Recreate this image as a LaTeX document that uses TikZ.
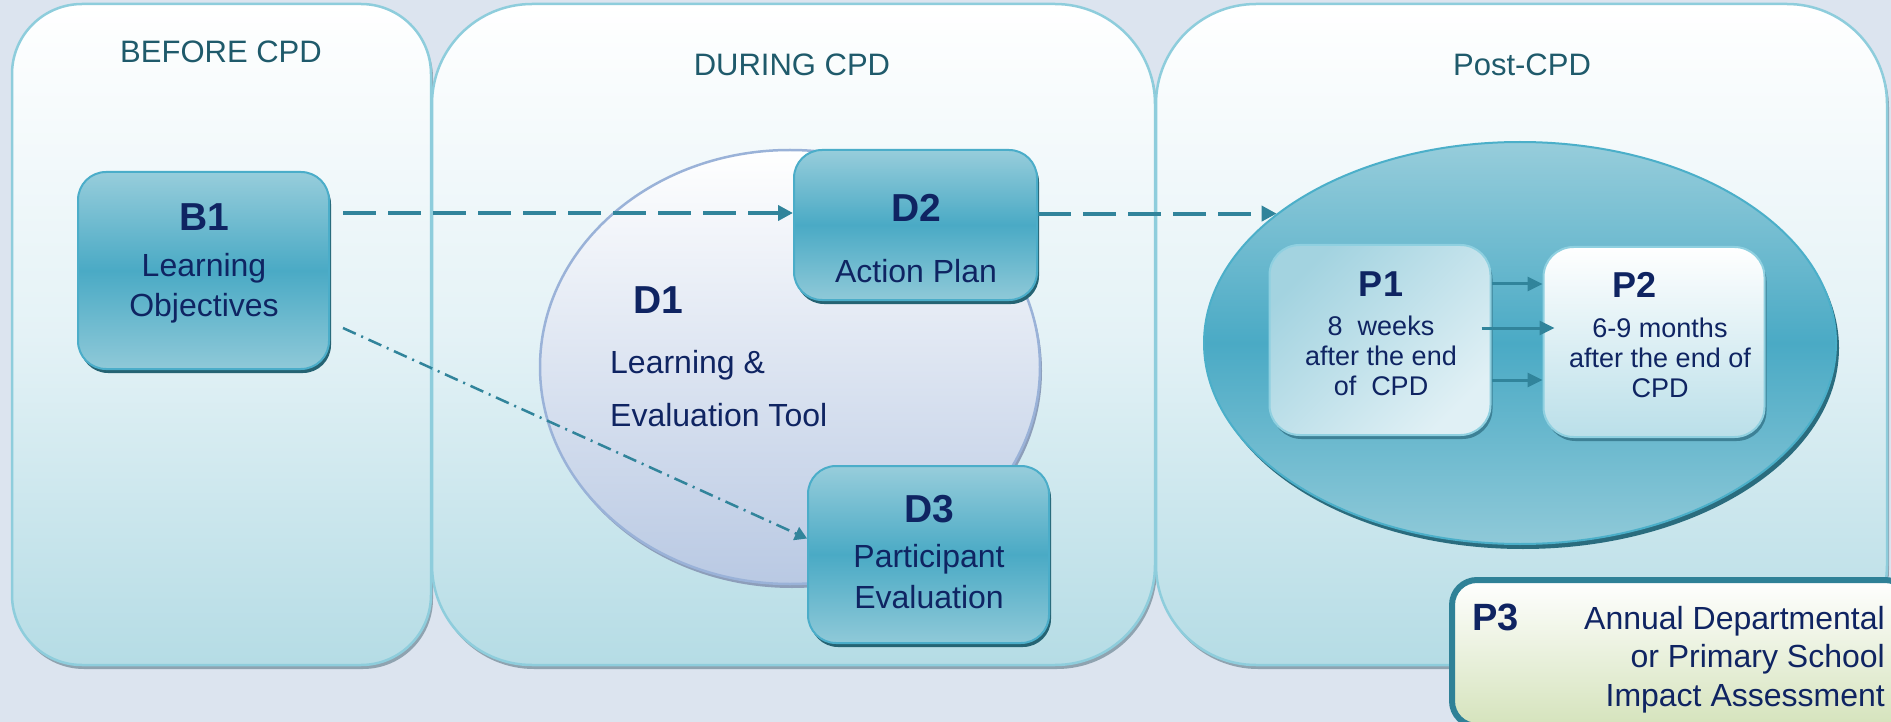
\documentclass[tikz,border=0pt]{standalone}
\usepackage{fontspec}
\setmainfont{Liberation Sans}
\usetikzlibrary{shapes.geometric}
\usetikzlibrary{arrows.meta}
\usetikzlibrary{shadows}
\definecolor{PageBack}{HTML}{DCE4EF}
\definecolor{PanelLine}{HTML}{8ECDDC}
\definecolor{PanelMid}{HTML}{E4F2F6}
\definecolor{PanelBot}{HTML}{B5DCE5}
\definecolor{PanelShadow}{HTML}{8FA3B0}
\definecolor{TitleCol}{HTML}{1F5A6B}
\definecolor{Navy}{HTML}{0F2462}
\definecolor{BoxTop}{HTML}{97CDDB}
\definecolor{BoxMid}{HTML}{4AAAC5}
\definecolor{BoxBot}{HTML}{8FC9D8}
\definecolor{BoxLine}{HTML}{4BADC9}
\definecolor{BoxShadow}{HTML}{256373}
\definecolor{OvalLine}{HTML}{9AB2D8}
\definecolor{OvalBot}{HTML}{B9C9E3}
\definecolor{OvalShadow}{HTML}{8D9EBA}
\definecolor{PostLine}{HTML}{4BAFC9}
\definecolor{PostShadow}{HTML}{2A6C7E}
\definecolor{PLine}{HTML}{8FD0E0}
\definecolor{PShadow}{HTML}{3D8196}
\definecolor{POneTop}{HTML}{A3D3E0}
\definecolor{POneBot}{HTML}{E0F0F5}
\definecolor{PTwoBot}{HTML}{BADFE9}
\definecolor{ArrowCol}{HTML}{31849B}
\definecolor{PThree}{HTML}{2F8197}
\definecolor{PThreeBot}{HTML}{D5E3BC}

\begin{document}
\begin{tikzpicture}[x=1pt,y=-1pt,
    panel/.style={draw=PanelLine, line width=2.5pt, top color=white, bottom color=PanelBot,
      middle color=PanelMid,
      drop shadow={shadow xshift=2pt, shadow yshift=-4pt, fill=PanelShadow, opacity=1}},
    stepbox/.style={rectangle, rounded corners=28pt, draw=BoxLine, line width=2pt, inner sep=0pt,
      top color=BoxTop, bottom color=BoxBot, middle color=BoxMid,
      drop shadow={shadow xshift=2pt, shadow yshift=-4pt, fill=BoxShadow, opacity=1}},
    pbox/.style={rectangle, rounded corners=30pt, draw=PLine, line width=2pt, inner sep=0pt,
      minimum width=221pt, minimum height=190pt,
      drop shadow={shadow xshift=2pt, shadow yshift=-4pt, fill=PShadow, opacity=1}},
    title/.style={font=\fontsize{31}{37}\selectfont, text=TitleCol, anchor=base, inner sep=0pt},
    boxtext/.style={font=\fontsize{32}{40}\selectfont, text=Navy, align=center, anchor=north, inner sep=0pt},
    ptext/.style={font=\fontsize{27}{30}\selectfont, text=Navy, align=center, anchor=north, inner sep=0pt},
    tag/.style={font=\fontsize{39}{40}\selectfont\bfseries, text=Navy, inner sep=0pt},
    dasharr/.style={draw=ArrowCol, line width=4pt, dash pattern=on 33pt off 12pt,
      -{Triangle[length=15pt,width=15pt]}},
    dotarr/.style={draw=ArrowCol, line width=2.5pt, dash pattern=on 14pt off 6pt on 2pt off 6pt,
      -{Triangle[length=12pt,width=14pt]}},
    parr/.style={draw=ArrowCol, line width=3pt, -{Triangle[length=15pt,width=14pt]}}
  ]
  \useasboundingbox (0,0) rectangle (1891,722);
  \fill[PageBack] (0,0) rectangle (1891,722);

  % three phases
  \draw[panel, rounded corners=70pt] (12,4) rectangle (431,665);
  \draw[panel, rounded corners=100pt] (432,4) rectangle (1155,665);
  \draw[panel, rounded corners=100pt] (1156,4) rectangle (1887,665);
  \node[title] (before) at (221,63) {BEFORE CPD};
  \node[title] (during) at (792,76) {DURING CPD};
  \node[title] (postcpd) at (1522,76) {Post-CPD};

  % during
  \node[ellipse, draw=OvalLine, line width=2.5pt, inner sep=0pt, top color=white, bottom color=OvalBot,
    minimum width=500pt, minimum height=434pt,
    drop shadow={shadow xshift=2pt, shadow yshift=-4pt, fill=OvalShadow, opacity=1}] (d1) at (790,367) {};
  \node[tag, anchor=base west] (d1tag) at (633,313) {D1};
  \node[boxtext, align=left, anchor=north west, font=\fontsize{32}{53}\selectfont] (d1txt) at (610,350)
    {Learning \&\\Evaluation Tool};
  \node[stepbox, minimum width=243pt, minimum height=150pt] (d2) at (915.5,225) {};
  \node[boxtext] (d2txt) at (916,194) {{\fontsize{39}{40}\selectfont\bfseries D2}\\[21pt]Action Plan};
  \node[stepbox, minimum width=241pt, minimum height=177pt] (d3) at (928.5,554.5) {};
  \node[boxtext, font=\fontsize{32}{41}\selectfont] (d3txt) at (929,495)
    {{\fontsize{39}{40}\selectfont\bfseries D3}\\[4pt]Participant\\Evaluation};

  % before
  \node[stepbox, minimum width=251pt, minimum height=197pt] (b1) at (203.5,270.5) {};
  \node[boxtext] (b1txt) at (204,203) {{\fontsize{39}{40}\selectfont\bfseries B1}\\[6pt]Learning\\Objectives};

  % post
  \node[ellipse, draw=PostLine, line width=2pt, inner sep=0pt,
    top color=BoxTop, bottom color=BoxBot, middle color=BoxMid,
    minimum width=632pt, minimum height=402pt,
    drop shadow={shadow xshift=3pt, shadow yshift=-5pt, fill=PostShadow, opacity=1}] (post) at (1520,343) {};
  \node[pbox, top color=POneTop, bottom color=POneBot, shading angle=45] (p1) at (1380,340) {};
  \node[pbox, top color=white, bottom color=PTwoBot] (p2) at (1654,342) {};
  \node[ptext] (p1txt) at (1381,272)
    {{\fontsize{36}{36}\selectfont\bfseries P1}\\[9pt]8\ \ weeks\\after the end\\of\ \ CPD};
  \node[tag, font=\fontsize{36}{36}\selectfont\bfseries, anchor=base] (p2tag) at (1634,298) {P2};
  \node[ptext] (p2txt) at (1660,318) {6-9 months\\after the end of\\CPD};
  \node[rectangle, rounded corners=25pt, draw=PThree, line width=6pt, inner sep=0pt,
    top color=white, bottom color=PThreeBot, minimum width=458pt, minimum height=146pt] (p3) at (1681,653) {};
  \node[tag, font=\fontsize{38}{40}\selectfont\bfseries, anchor=base west] (p3tag) at (1472,630) {P3};
  \node[boxtext, align=right, anchor=north east, font=\fontsize{32}{38.5}\selectfont] (p3txt) at (1885,606)
    {Annual Departmental\\or Primary School\\Impact Assessment};

  % links
  \draw[dasharr] ([shift={(13pt,57.5pt)}]b1.east) -- ([yshift=12pt]d2.west);
  \draw[dasharr] (d2.east |- post.152.6) -- (post.152.6);
  \draw[dotarr] ([shift={(13pt,-57.5pt)}]b1.east) -- ([yshift=16pt]d3.west);
  \draw[parr] ([yshift=56pt]p1.east) -- ([yshift=56pt]p1.east -| p2.west);
  \draw[parr] ([shift={(-10pt,12pt)}]p1.east) -- ([shift={(12pt,12pt)}]p1.east -| p2.west);
  \draw[parr] ([yshift=-40pt]p1.east) -- ([yshift=-40pt]p1.east -| p2.west);
\end{tikzpicture}
\end{document}
